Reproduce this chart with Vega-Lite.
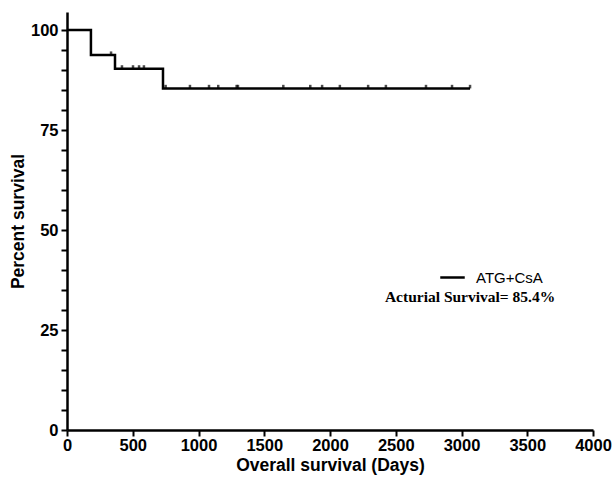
{
  "$schema": "https://vega.github.io/schema/vega-lite/v6.json",
  "width": 526,
  "height": 418,
  "autosize": {"type": "none"},
  "padding": {"left": 67, "top": 12, "right": 20, "bottom": 55},
  "background": "white",
  "config": {
    "view": {"stroke": null},
    "font": "Liberation Sans"
  },
  "datasets": {
    "curve": [
      {"day": 0, "survival": 100, "group": "ATG+CsA"},
      {"day": 182, "survival": 93.75, "group": "ATG+CsA"},
      {"day": 365, "survival": 90.3, "group": "ATG+CsA"},
      {"day": 730, "survival": 85.4, "group": "ATG+CsA"},
      {"day": 3065, "survival": 85.4, "group": "ATG+CsA"}
    ],
    "censored": [
      {"day": 335, "survival": 93.75},
      {"day": 418, "survival": 90.3},
      {"day": 502, "survival": 90.3},
      {"day": 548, "survival": 90.3},
      {"day": 585, "survival": 90.3},
      {"day": 750, "survival": 85.4},
      {"day": 935, "survival": 85.4},
      {"day": 1080, "survival": 85.4},
      {"day": 1150, "survival": 85.4},
      {"day": 1290, "survival": 85.4},
      {"day": 1300, "survival": 85.4},
      {"day": 1645, "survival": 85.4},
      {"day": 1850, "survival": 85.4},
      {"day": 1940, "survival": 85.4},
      {"day": 2075, "survival": 85.4},
      {"day": 2290, "survival": 85.4},
      {"day": 2425, "survival": 85.4},
      {"day": 2730, "survival": 85.4},
      {"day": 2928, "survival": 85.4},
      {"day": 3065, "survival": 85.4}
    ],
    "note": [
      {"day": 3065, "survival": 33.2, "label": "Acturial Survival= 85.4%"}
    ]
  },
  "encoding": {
    "x": {
      "field": "day", "type": "quantitative",
      "scale": {"domain": [0, 4000], "nice": false, "zero": true},
      "axis": {
        "values": [0, 500, 1000, 1500, 2000, 2500, 3000, 3500, 4000],
        "format": "d",
        "labelOverlap": false,
        "title": "Overall survival (Days)",
        "grid": false,
        "domainColor": "black", "domainWidth": 2.5,
        "tickColor": "black", "tickWidth": 2, "tickSize": 6,
        "labelFont": "Liberation Sans", "labelFontWeight": "bold", "labelFontSize": 16.5, "labelColor": "black", "labelPadding": 1,
        "titleFont": "Liberation Sans", "titleFontWeight": "bold", "titleFontSize": 17.5, "titleColor": "black", "titlePadding": 3,
        "labelFlush": false
      }
    },
    "y": {
      "field": "survival", "type": "quantitative",
      "scale": {"domain": [0, 104.5], "nice": false},
      "axis": {
        "values": [0, 5, 10, 15, 20, 25, 30, 35, 40, 45, 50, 55, 60, 65, 70, 75, 80, 85, 90, 95, 100],
        "labelExpr": "(datum.value == 0 || datum.value == 25 || datum.value == 50 || datum.value == 75 || datum.value == 100) ? datum.label : ''",
        "labelOverlap": false,
        "labelBound": false,
        "format": "d",
        "title": "Percent survival",
        "grid": false,
        "domainColor": "black", "domainWidth": 2.5,
        "tickColor": "black", "tickWidth": 2, "tickSize": 6,
        "labelFont": "Liberation Sans", "labelFontWeight": "bold", "labelFontSize": 16.5, "labelColor": "black", "labelPadding": 3,
        "titleFont": "Liberation Sans", "titleFontWeight": "bold", "titleFontSize": 17.5, "titleColor": "black", "titlePadding": 3
      }
    }
  },
  "layer": [
    {
      "data": {"name": "curve"},
      "mark": {"type": "line", "interpolate": "step-after", "color": "black", "strokeWidth": 2.5},
      "encoding": {
        "color": {
          "field": "group", "type": "nominal",
          "scale": {"range": ["black"]},
          "legend": {
            "title": null,
            "orient": "none",
            "legendX": 372,
            "legendY": 252,
            "symbolType": "stroke",
            "symbolStrokeWidth": 2.5,
            "symbolSize": 600,
            "labelFont": "Liberation Sans",
            "labelFontSize": 15,
            "labelColor": "black",
            "labelOffset": 10
          }
        }
      }
    },
    {
      "data": {"name": "censored"},
      "mark": {"type": "point", "shape": "M0,-1.6V0", "size": 20, "stroke": "black", "strokeWidth": 2.5, "filled": false},
      "encoding": {}
    },
    {
      "data": {"name": "note"},
      "mark": {"type": "text", "font": "Liberation Serif", "fontWeight": "bold", "fontSize": 15.5, "color": "black", "align": "center", "baseline": "middle"},
      "encoding": {
        "text": {"field": "label"}
      }
    }
  ]
}
